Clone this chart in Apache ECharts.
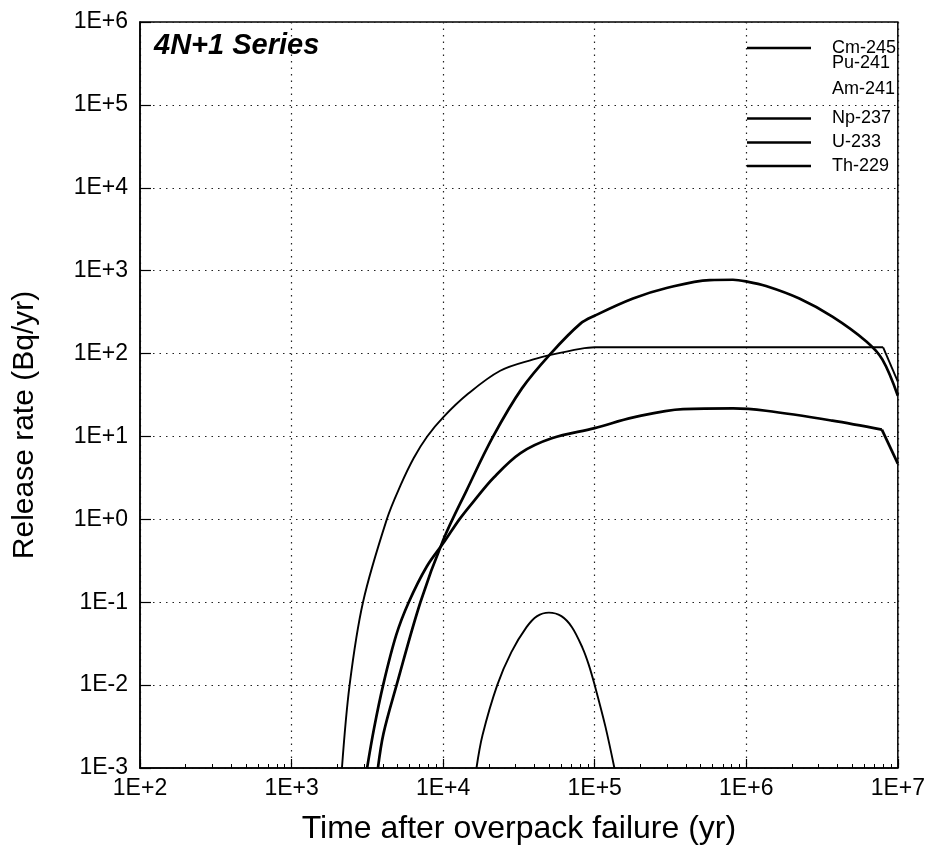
<!DOCTYPE html>
<html>
<head>
<meta charset="utf-8">
<script src="https://cdn.jsdelivr.net/npm/echarts@6/dist/echarts.min.js"></script>
<style>html,body{margin:0;padding:0;background:#fff}#c{width:928px;height:850px}</style>
</head>
<body>
<div id="c"></div>
<script>
// Series names (legend order)
const names = ['Cm-245', 'Pu-241', 'Am-241', 'Np-237', 'U-233', 'Th-229'];

// Cm-245 (small hump)
const cmX = [16600, 18200, 22750, 28200, 35500, 41700, 49900, 60300, 70800, 83200, 91200, 100000, 117500, 134900];
const cmY = [0.001, 0.0025, 0.01, 0.025, 0.05, 0.068, 0.075, 0.068, 0.05, 0.028, 0.0178, 0.01, 0.0032, 0.001];

// Np-237 (plateau, sharp drop after 8E+6)
const npX = [2150, 2415, 2960, 4250, 5250, 6400, 7850, 10000, 14400, 23800, 39400, 52100, 80200, 100000, 300000, 1000000, 3000000, 8000000, 10000000];
const npY = [0.001, 0.01, 0.1, 1, 2.6, 5.5, 10, 17, 32, 62, 85, 97, 114, 119, 119, 119, 119, 119, 46];

// U-233 (large hump)
const uX = [3715, 4040, 4930, 7080, 10000, 14290, 21380, 33110, 51290, 80170, 100000, 179000, 298000, 574000, 817000, 1000000, 1350000, 2240000, 3700000, 6200000, 7900000, 10000000];
const uY = [0.001, 0.0026, 0.01, 0.1, 0.56, 2.24, 10, 38, 100, 228, 286, 461, 617, 771, 777, 742, 653, 461, 279, 140, 85, 31];

// Th-229 (lower hump, sharp drop after 7.85E+6)
const thX = [3150, 3500, 4020, 4900, 5930, 7800, 10200, 12800, 15900, 21600, 32400, 52100, 100000, 180000, 383000, 820000, 1350000, 3700000, 7850000, 10000000];
const thY = [0.001, 0.003, 0.01, 0.04, 0.1, 0.27, 0.54, 1.0, 1.65, 3.2, 6.3, 9.5, 12.6, 17, 21.4, 21.8, 20.4, 15.5, 12.1, 4.7];

// Pu-241 and Am-241: no visible curves
const puX = [], puY = [];
const amX = [], amY = [];

// Axis ranges / ticks
const xMin = 1e2, xMax = 1e7;
const yMin = 1e-3, yMax = 1e6;
const xMinorTicks = [];
for (let e = 2; e < 7; e++) for (let m = 2; m <= 9; m++) xMinorTicks.push(m * Math.pow(10, e));

function pairs(xs, ys) { return xs.map((x, i) => [x, ys[i]]); }
function fmt(v) {
  const e = Math.round(Math.log10(v));
  return '1E' + (e >= 0 ? '+' : '-') + Math.abs(e);
}

const FONT = '"Liberation Sans", Arial, Helvetica, sans-serif';
// kink: index of the last point of the smooth part (the rest is drawn straight)
const seriesDefs = [
  { name: 'Cm-245', x: cmX, y: cmY, w: 1.9, c: '#000' },
  { name: 'Pu-241', x: puX, y: puY, w: 0, c: 'rgba(0,0,0,0)' },
  { name: 'Am-241', x: amX, y: amY, w: 0, c: 'rgba(0,0,0,0)' },
  { name: 'Np-237', x: npX, y: npY, w: 1.9, c: '#000', kink: npX.length - 2 },
  { name: 'U-233', x: uX, y: uY, w: 2.7, c: '#000' },
  { name: 'Th-229', x: thX, y: thY, w: 2.7, c: '#000', kink: thX.length - 2 }
];
const legendCenters = [48, 63.5, 89, 118.5, 142.5, 166];

const series = [];
seriesDefs.forEach(s => {
  const all = pairs(s.x, s.y);
  const base = {
    name: s.name, type: 'line', xAxisIndex: 0, symbol: 'none',
    lineStyle: { color: s.c, width: s.w }, itemStyle: { color: s.c }, clip: true
  };
  if (s.kink !== undefined) {
    series.push(Object.assign({}, base, { data: all.slice(0, s.kink + 1), smooth: 0.35 }));
    series.push(Object.assign({}, base, { data: all.slice(s.kink), smooth: false }));
  } else {
    series.push(Object.assign({}, base, { data: all, smooth: 0.35 }));
  }
});

const chart = echarts.init(document.getElementById('c'), null, { renderer: 'canvas' });
chart.setOption({
  animation: false,
  backgroundColor: '#fff',
  title: {
    text: '4N+1 Series', left: 149, top: 26,
    textStyle: { fontFamily: FONT, fontSize: 29, fontWeight: 'bold', fontStyle: 'italic', color: '#000' }
  },
  legend: seriesDefs.map((s, i) => ({
    data: [{ name: s.name, icon: 'rect', itemStyle: { color: s.c, opacity: s.w === 0 ? 0 : 1 } }],
    left: 747, top: legendCenters[i] - 9, padding: 0,
    itemWidth: 64, itemHeight: 2.6, selectedMode: false,
    textStyle: { fontFamily: FONT, fontSize: 18, color: '#000', lineHeight: 18, padding: [0, 0, 0, 16] }
  })),
  grid: { left: 140, right: 30, top: 22, bottom: 75, show: true, borderColor: '#000', borderWidth: 1.5, backgroundColor: 'transparent' },
  xAxis: [{
    type: 'log', logBase: 10, min: xMin, max: xMax, splitNumber: 5,
    name: 'Time after overpack failure (yr)', nameLocation: 'middle', nameGap: 45,
    nameTextStyle: { fontFamily: FONT, fontSize: 32, color: '#000' },
    axisLine: { show: true, lineStyle: { color: '#000', width: 1.5 } },
    axisTick: { show: true, inside: true, length: 9, lineStyle: { color: '#000', width: 1.2 } },
    axisLabel: { fontFamily: FONT, fontSize: 23, color: '#000', margin: 9, formatter: fmt },
    splitLine: { show: true, lineStyle: { color: '#222', width: 1.2, type: [1.5, 5] } }
  }, {
    type: 'log', logBase: 10, min: xMin, max: xMax, position: 'bottom',
    axisLine: { show: false },
    axisLabel: { show: false },
    splitLine: { show: false },
    axisTick: { show: true, inside: true, length: 4, customValues: xMinorTicks, lineStyle: { color: '#000', width: 1 } }
  }],
  yAxis: {
    type: 'log', logBase: 10, min: yMin, max: yMax, splitNumber: 9,
    name: 'Release rate (Bq/yr)', nameLocation: 'middle', nameGap: 100, nameRotate: 90,
    nameTextStyle: { fontFamily: FONT, fontSize: 30, color: '#000', padding: [0, 60, 0, 0] },
    axisLine: { show: true, lineStyle: { color: '#000', width: 1.5 } },
    axisTick: { show: true, inside: true, length: 11, lineStyle: { color: '#000', width: 1.2 } },
    axisLabel: { fontFamily: FONT, fontSize: 23, color: '#000', margin: 12, formatter: fmt },
    splitLine: { show: true, lineStyle: { color: '#222', width: 1.2, type: [1.5, 5] } }
  },
  series: series
});
</script>
</body>
</html>
